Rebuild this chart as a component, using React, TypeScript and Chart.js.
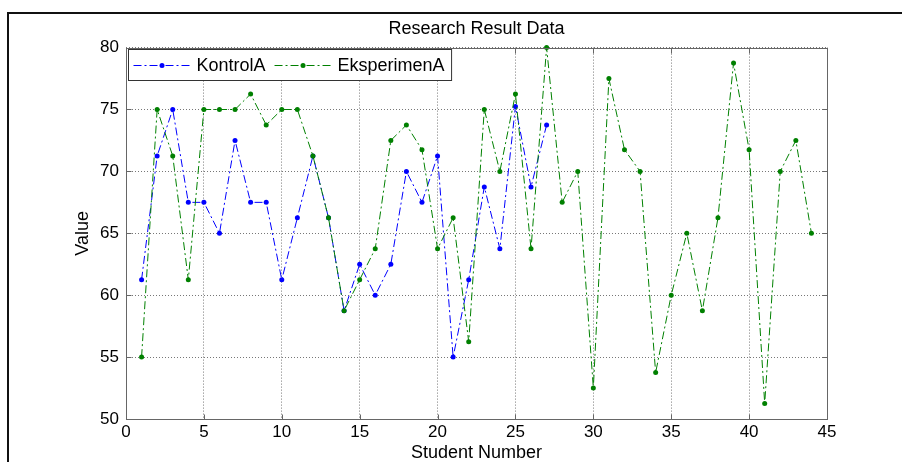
import React, { useEffect, useRef } from 'react';
import { Chart, registerables } from 'chart.js';

Chart.register(...registerables);

const students = [1, 2, 3, 4, 5, 6, 7, 8, 9, 10, 11, 12, 13, 14, 15, 16, 17, 18, 19, 20, 21, 22, 23, 24, 25, 26, 27, 28, 29, 30, 31, 32, 33, 34, 35, 36, 37, 38, 39, 40, 41, 42, 43, 44];
const kontrolA = [61.25, 71.25, 75, 67.5, 67.5, 65, 72.5, 67.5, 67.5, 61.25, 66.25, 71.25, 66.25, 58.75, 62.5, 60, 62.5, 70, 67.5, 71.25, 55, 61.25, 68.75, 63.75, 75.25, 68.75, 73.75];
const eksperimenA = [55, 75, 71.25, 61.25, 75, 75, 75, 76.25, 73.75, 75, 75, 71.25, 66.25, 58.75, 61.25, 63.75, 72.5, 73.75, 71.75, 63.75, 66.25, 56.25, 75, 70, 76.25, 63.75, 80, 67.5, 70, 52.5, 77.5, 71.75, 70, 53.75, 60, 65, 58.75, 66.25, 78.75, 71.75, 51.25, 70, 72.5, 65];
const seriesNames = ['KontrolA', 'EksperimenA'];
const seriesColors = ['#0000ff', '#008000'];
const xTicks = [0, 5, 10, 15, 20, 25, 30, 35, 40, 45];
const yTicks = [50, 55, 60, 65, 70, 75, 80];
const titleText = 'Research Result Data';
const xTitle = 'Student Number';
const yTitle = 'Value';

const FONT = '"Liberation Sans", Arial, Helvetica, sans-serif';
const DASH = [8, 3, 2, 3];

export default function App() {
  const ref = useRef<HTMLCanvasElement>(null);

  useEffect(() => {
    if (!ref.current) return;
    const boxPlugin = {
      id: 'matlabBox',
      afterDatasetsDraw(chart: any) {
        const { ctx, chartArea: a, scales } = chart;
        const xs = scales.x;
        const ys = scales.y;
        const L = Math.round(a.left) + 0.5;
        const R = Math.round(a.right) + 0.5;
        const T = Math.round(a.top) + 0.5;
        const B = Math.round(a.bottom) + 0.5;
        ctx.save();
        ctx.setLineDash([]);
        ctx.strokeStyle = '#666';
        ctx.lineWidth = 1;
        ctx.beginPath();
        xTicks.forEach((v) => {
          const px = Math.round(xs.getPixelForValue(v)) + 0.5;
          ctx.moveTo(px, B);
          ctx.lineTo(px, B - 5);
          ctx.moveTo(px, T);
          ctx.lineTo(px, T + 5);
        });
        yTicks.forEach((v) => {
          const py = Math.round(ys.getPixelForValue(v)) + 0.5;
          ctx.moveTo(L, py);
          ctx.lineTo(L + 5, py);
          ctx.moveTo(R, py);
          ctx.lineTo(R - 5, py);
        });
        ctx.stroke();
        ctx.strokeRect(L, T, R - L, B - T);

        // legend
        ctx.font = `18px ${FONT}`;
        const sampleLen = 57;
        const bx = L + 2;
        const by = T + 1;
        const bh = 31;
        let x = bx + 5;
        const items: { sx: number; tx: number }[] = [];
        seriesNames.forEach((name) => {
          const sx = x;
          const tx = sx + sampleLen + 6;
          items.push({ sx, tx });
          x = tx + ctx.measureText(name).width + 9;
        });
        const bw = x - bx - 2;
        ctx.fillStyle = '#fff';
        ctx.fillRect(bx, by, bw, bh);
        ctx.strokeStyle = '#333';
        ctx.strokeRect(bx, by, bw, bh);
        const cy = by + bh / 2;
        seriesNames.forEach((name, i) => {
          const { sx, tx } = items[i];
          ctx.strokeStyle = seriesColors[i];
          ctx.lineWidth = 1;
          ctx.setLineDash(DASH);
          ctx.beginPath();
          ctx.moveTo(sx, Math.round(cy) + 0.5);
          ctx.lineTo(sx + sampleLen, Math.round(cy) + 0.5);
          ctx.stroke();
          ctx.setLineDash([]);
          ctx.fillStyle = seriesColors[i];
          ctx.beginPath();
          ctx.arc(sx + sampleLen / 2, Math.round(cy) + 0.5, 2.5, 0, Math.PI * 2);
          ctx.fill();
          ctx.fillStyle = '#000';
          ctx.textBaseline = 'middle';
          ctx.textAlign = 'left';
          ctx.fillText(name, tx, cy + 1);
        });
        ctx.restore();
      },
    };

    const mk = (vals: number[]) => vals.map((v, i) => ({ x: students[i], y: v }));
    const seriesData = [kontrolA, eksperimenA];

    const chart = new Chart(ref.current, {
      type: 'line',
      data: {
        datasets: seriesNames.map((name, i) => ({
          label: name,
          data: mk(seriesData[i]),
          order: seriesNames.length - 1 - i,
          borderColor: seriesColors[i],
          backgroundColor: seriesColors[i],
          borderWidth: 1,
          borderDash: DASH,
          pointRadius: 2.5,
          pointBorderWidth: 0,
          pointBackgroundColor: seriesColors[i],
          tension: 0,
          fill: false,
          clip: false as any,
        })),
      },
      options: {
        responsive: false,
        animation: false,
        devicePixelRatio: 1,
        events: [],
        layout: { padding: { left: 0, right: 75, top: 0, bottom: 0 } },
        plugins: {
          legend: { display: false },
          tooltip: { enabled: false },
          title: {
            display: true,
            text: titleText,
            fullSize: false,
            color: '#000',
            font: { family: FONT, size: 18, weight: 'normal' },
            padding: { top: 18, bottom: 8 },
          },
        },
        scales: {
          x: {
            type: 'linear',
            min: 0,
            max: 45,
            afterFit(s: any) {
              s.height = 43;
            },
            afterBuildTicks(s: any) {
              s.ticks = xTicks.map((v) => ({ value: v }));
            },
            ticks: {
              color: '#000',
              font: { family: FONT, size: 17 },
              padding: 3,
              maxRotation: 0,
              autoSkip: false,
            },
            grid: { color: '#777', lineWidth: 1, drawTicks: false },
            border: { display: false, dash: [1, 2] },
            title: {
              display: true,
              text: xTitle,
              color: '#000',
              font: { family: FONT, size: 18 },
              padding: { top: 0, bottom: -2 },
            },
          },
          y: {
            type: 'linear',
            min: 50,
            max: 80,
            afterFit(s: any) {
              s.width = 126;
            },
            afterBuildTicks(s: any) {
              s.ticks = yTicks.map((v) => ({ value: v }));
            },
            ticks: {
              color: '#000',
              font: { family: FONT, size: 17 },
              padding: 7,
            },
            grid: { color: '#777', lineWidth: 1, drawTicks: false },
            border: { display: false, dash: [1, 2] },
            title: {
              display: true,
              text: yTitle,
              color: '#000',
              font: { family: FONT, size: 18 },
              padding: { top: 72, bottom: 0 },
            },
          },
        },
      },
      plugins: [boxPlugin],
    } as any);
    return () => chart.destroy();
  }, []);

  return (
    <div style={{ position: 'fixed', left: 0, top: 0, width: 902, height: 462, overflow: 'hidden', background: '#fff' }}>
      <div style={{ position: 'absolute', left: 7, top: 12, width: 1000, height: 1000, border: '2px solid #111', boxSizing: 'border-box' }} />
      <canvas ref={ref} width={902} height={462} style={{ position: 'absolute', left: 0, top: 0, display: 'block' }} />
    </div>
  );
}
